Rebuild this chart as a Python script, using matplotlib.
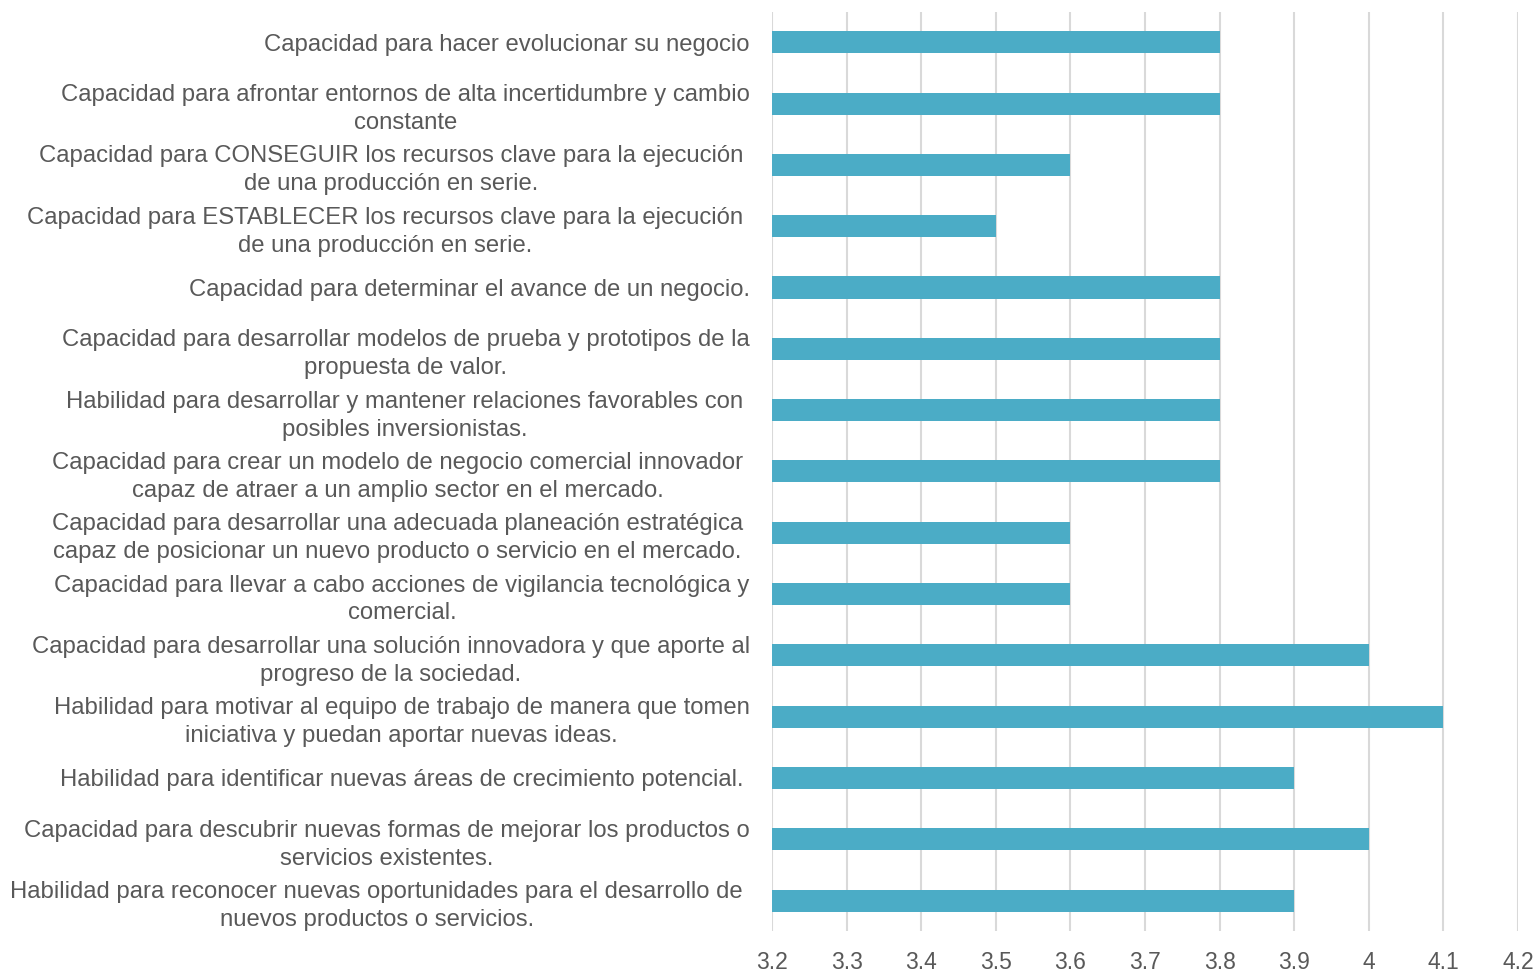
import matplotlib.pyplot as plt

plt.rcParams['font.family'] = ['Liberation Sans', 'DejaVu Sans']

labels = [
    "Capacidad para hacer evolucionar su negocio",
    "Capacidad para afrontar entornos de alta incertidumbre y cambio\nconstante",
    "Capacidad para CONSEGUIR los recursos clave para la ejecución \nde una producción en serie. ",
    "Capacidad para ESTABLECER los recursos clave para la ejecución \nde una producción en serie. ",
    "Capacidad para determinar el avance de un negocio.",
    "Capacidad para desarrollar modelos de prueba y prototipos de la\npropuesta de valor.",
    "Habilidad para desarrollar y mantener relaciones favorables con \nposibles inversionistas. ",
    "Capacidad para crear un modelo de negocio comercial innovador \ncapaz de atraer a un amplio sector en el mercado. ",
    "Capacidad para desarrollar una adecuada planeación estratégica \ncapaz de posicionar un nuevo producto o servicio en el mercado. ",
    "Capacidad para llevar a cabo acciones de vigilancia tecnológica y\ncomercial.",
    "Capacidad para desarrollar una solución innovadora y que aporte al\nprogreso de la sociedad.",
    "Habilidad para motivar al equipo de trabajo de manera que tomen\niniciativa y puedan aportar nuevas ideas.",
    "Habilidad para identificar nuevas áreas de crecimiento potencial. ",
    "Capacidad para descubrir nuevas formas de mejorar los productos o\nservicios existentes.",
    "Habilidad para reconocer nuevas oportunidades para el desarrollo de \nnuevos productos o servicios. ",
]
values = [3.8, 3.8, 3.6, 3.5, 3.8, 3.8, 3.8, 3.8, 3.6, 3.6, 4.0, 4.1, 3.9, 4.0, 3.9]
xticks = [3.2, 3.3, 3.4, 3.5, 3.6, 3.7, 3.8, 3.9, 4.0, 4.1, 4.2]
xtick_labels = ["3.2", "3.3", "3.4", "3.5", "3.6", "3.7", "3.8", "3.9", "4", "4.1", "4.2"]

fig = plt.figure(figsize=(15.39, 9.71), dpi=100)
ax = fig.add_axes([0.5016, 0.041, 0.4848, 0.947])

y = list(range(len(values)))
ax.barh(y, values, height=0.36, color="#4BACC6", zorder=3)
ax.set_ylim(len(values) - 0.5, -0.5)
ax.set_xlim(3.2, 4.2)
ax.set_xticks(xticks)
ax.set_xticklabels(xtick_labels, fontsize=16.5)
ax.set_yticks(y)
ax.set_yticklabels(labels, multialignment="center", linespacing=1.35, fontsize=17.2)

ax.grid(axis="x", color="#D9D9D9", linewidth=1.5, zorder=0)
for s in ax.spines.values():
    s.set_visible(False)
ax.tick_params(axis="both", length=0, colors="#595959")
ax.tick_params(axis="y", pad=16)
ax.tick_params(axis="x", pad=14)

fig.savefig("out.png", dpi=100, facecolor="white")
